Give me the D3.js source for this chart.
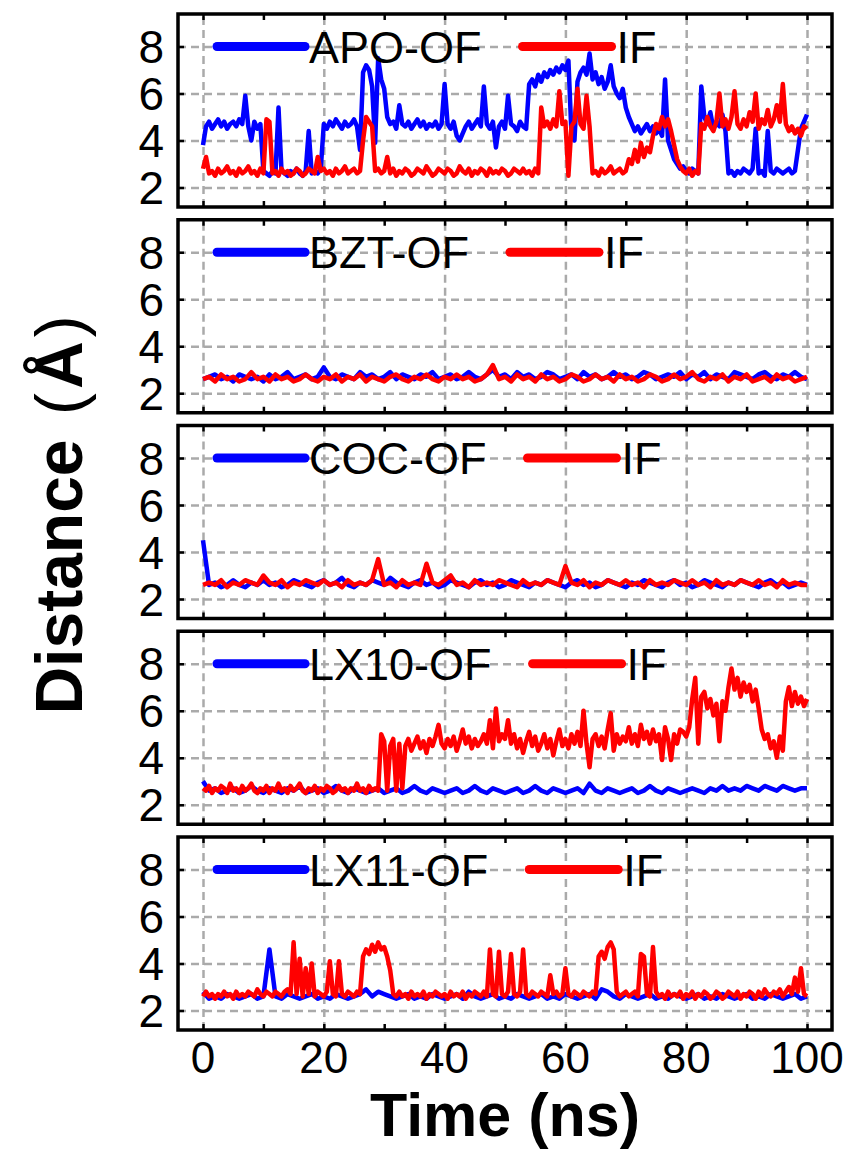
<!DOCTYPE html>
<html>
<head>
<meta charset="utf-8">
<script src="https://cdn.jsdelivr.net/npm/d3@7"></script>
<style>
    body { margin: 0; background: #fff; }
    svg { display: block; font-family: "Liberation Sans", Arial, sans-serif; }
</style>
</head>
<body>
<div class="chart"></div>
<script>
// time axis, ns
let timeMax = 100;
let xTickValues = [0, 10, 20, 30, 40, 50, 60, 70, 80, 90, 100];
let xTickLabels = [0, 20, 40, 60, 80, 100];
let yTickValues = [2, 4, 6, 8];

let panelNames = ['APO', 'BZT', 'COC', 'LX10', 'LX11'];

// distances in Angstrom, evenly sampled over 0..100 ns
let apoOF = [
    3.8, 4.6, 4.8, 4.5, 4.7, 4.9, 4.6, 4.8, 4.5, 4.7, 4.8, 4.6, 4.9, 4.7, 5.9, 4.6, 4.0, 4.8, 4.5, 4.7,
    2.7, 2.6, 2.5, 2.7, 2.6, 5.4, 2.7, 2.6, 2.5, 2.7, 2.6, 2.8, 2.6, 2.5, 2.7, 4.4, 2.6, 2.7, 2.6, 2.8,
    4.7, 4.5, 4.8, 4.6, 4.9, 4.7, 4.5, 4.8, 4.6, 4.7, 4.9, 4.6, 3.6, 6.9, 7.2, 7.0, 6.3, 3.9, 7.5, 6.6,
    6.2, 5.0, 4.7, 4.8, 4.5, 5.5, 4.7, 4.6, 4.8, 4.5, 4.7, 4.9, 4.6, 4.8, 4.5, 4.7, 4.6, 4.8, 4.5, 4.7,
    6.4, 4.7, 4.5, 4.8, 4.2, 4.0, 4.3, 4.6, 4.8, 4.5, 4.7, 4.9, 4.6, 6.3, 4.7, 4.5, 4.8, 3.7, 4.6, 4.8,
    4.5, 5.9, 4.7, 4.6, 4.4, 4.8, 4.6, 4.5, 6.4, 6.6, 6.3, 6.8, 6.5, 6.9, 6.7, 7.0, 6.8, 7.1, 6.9, 7.2,
    7.0, 7.4, 4.3, 4.0, 6.5, 6.9, 7.1, 6.8, 7.7, 6.6, 6.9, 6.4, 6.7, 6.2, 6.5, 7.2, 6.3, 6.0, 5.8, 6.2,
    5.4, 5.0, 4.7, 4.4, 4.6, 4.3, 4.5, 4.7, 4.4, 4.6, 4.3, 4.5, 4.2, 6.6, 4.0, 3.6, 3.2, 3.0, 2.8, 2.9,
    2.7, 2.6, 2.8, 2.7, 2.6, 6.3, 5.0, 4.7, 5.2, 4.5, 4.8, 4.6, 5.1, 4.4, 2.6, 2.7, 2.5, 2.7, 2.6, 2.8,
    2.7, 2.6, 2.8, 4.5, 2.6, 2.7, 2.5, 4.4, 2.7, 2.6, 2.8, 2.7, 2.6, 2.7, 2.8, 2.6, 2.7, 3.6, 4.5, 4.8,
    5.1
];
let apoIF = [
    2.8, 3.3, 2.6, 2.7, 2.5, 2.8, 2.6, 2.7, 2.9, 2.6, 2.7, 2.5, 2.8, 2.6, 2.7, 2.9, 2.6, 2.7, 2.5, 2.8,
    2.6, 4.9, 4.8, 2.6, 2.7, 2.5, 2.8, 2.6, 2.7, 2.5, 2.6, 2.8, 2.7, 2.5, 2.6, 2.8, 2.7, 2.6, 3.3, 2.7,
    2.8, 2.6, 2.7, 2.5, 2.8, 2.6, 2.7, 2.9, 2.6, 2.7, 2.8, 2.6, 2.7, 4.0, 5.0, 4.8, 4.6, 2.7, 2.8, 2.6,
    2.7, 3.3, 2.6, 2.8, 2.5, 2.7, 2.6, 2.8, 2.7, 2.5, 2.6, 2.8, 2.7, 2.6, 2.9, 2.7, 2.5, 2.6, 2.8, 2.7,
    2.6, 2.8, 2.7, 2.5, 2.6, 2.9, 2.7, 2.6, 2.8, 2.5, 2.7, 2.6, 2.8, 2.7, 2.5, 2.8, 2.6, 2.7, 2.6, 2.8,
    2.7, 2.5, 2.6, 2.8, 2.7, 2.6, 2.8, 2.6, 2.7, 2.5, 2.8, 2.6, 5.4, 4.6, 4.8, 4.5, 4.9, 4.6, 6.1, 4.7,
    4.8, 2.5, 4.6, 4.8, 6.2, 4.7, 4.5, 5.9, 4.6, 2.6, 2.7, 2.5, 2.8, 2.6, 2.7, 2.9, 2.6, 2.7, 2.8, 2.6,
    2.7, 3.2, 3.0, 3.6, 3.1, 3.9, 3.3, 3.7, 3.5, 4.2, 4.7, 4.5, 5.0, 4.6, 4.9, 4.4, 3.8, 3.2, 2.9, 2.7,
    2.6, 2.8, 2.5, 2.7, 2.6, 4.7, 4.5, 5.0, 4.6, 4.4, 4.8, 6.0, 4.6, 4.9, 4.5, 5.0, 6.1, 4.7, 4.5, 4.9,
    4.6, 5.2, 4.8, 6.0, 4.5, 4.9, 4.7, 5.3, 4.6, 4.9, 5.5, 4.8, 6.4, 4.7, 4.4, 4.6, 4.3, 4.5, 4.2, 4.6,
    4.5
];
let bztOF = [
    2.6, 2.7, 2.8, 2.6, 2.7, 2.5, 2.8, 2.7, 2.6, 2.7, 2.5, 2.8, 2.6, 2.7, 2.9, 2.6, 2.7, 2.8, 2.6, 2.7,
    3.1, 2.7, 2.6, 2.8, 2.7, 2.6, 2.9, 2.7, 2.8, 2.6, 2.7, 2.9, 2.6, 2.8, 2.7, 2.6, 2.8, 2.7, 2.9, 2.6,
    2.7, 2.8, 2.6, 2.7, 2.9, 2.7, 2.6, 2.8, 3.0, 2.7, 2.8, 2.6, 2.9, 2.7, 2.8, 2.6, 2.7, 2.9, 2.8, 2.6,
    2.7, 2.8, 2.6, 2.9, 2.7, 2.8, 2.6, 2.7, 2.9, 2.7, 2.8, 2.6, 2.7, 2.9, 2.8, 2.6, 2.7, 2.8, 2.7, 2.9,
    2.6, 2.8, 2.7, 2.9, 2.6, 2.8, 2.7, 2.6, 2.9, 2.8, 2.7, 2.6, 2.8, 2.9, 2.7, 2.6, 2.8, 2.7, 2.9, 2.7,
    2.6
];
let bztIF = [
    2.6, 2.7, 2.5, 2.8, 2.6, 2.7, 2.5, 2.6, 2.9, 2.6, 2.7, 2.5, 2.8, 2.6, 2.7, 2.5, 2.6, 2.8, 2.6, 2.5,
    2.7, 2.6, 2.8, 2.5, 2.7, 2.6, 2.8, 2.5, 2.7, 2.6, 2.5, 2.7, 2.8, 2.6, 2.5, 2.7, 2.6, 2.8, 2.6, 2.5,
    2.7, 2.6, 2.8, 2.6, 2.7, 2.5, 2.6, 2.8, 3.2, 2.6, 2.7, 2.5, 2.8, 2.6, 2.7, 2.5, 2.8, 2.6, 2.7, 2.5,
    2.6, 2.8, 2.7, 2.5, 2.6, 2.8, 2.6, 2.7, 2.5, 2.8, 2.6, 2.7, 2.5, 2.6, 2.8, 2.7, 2.5, 2.6, 2.8, 2.6,
    2.7, 2.9, 2.6, 2.5, 2.7, 2.6, 2.8, 2.5, 2.7, 2.6, 2.8, 2.5, 2.6, 2.7, 2.5, 2.8, 2.6, 2.7, 2.5, 2.6,
    2.7
];
let cocOF = [
    4.5, 2.6, 2.7, 2.5, 2.6, 2.8, 2.6, 2.5, 2.7, 2.6, 2.8, 2.6, 2.7, 2.5, 2.6, 2.8, 2.7, 2.6, 2.5, 2.7,
    2.8, 2.6, 2.7, 2.9, 2.6, 2.5, 2.7, 2.6, 2.8, 2.7, 2.6, 2.9, 2.7, 2.6, 2.5, 2.7, 2.8, 2.6, 2.7, 2.5,
    2.6, 2.8, 2.7, 2.6, 2.5, 2.7, 2.8, 2.6, 2.7, 2.5, 2.6, 2.8, 2.7, 2.6, 2.5, 2.7, 2.6, 2.8, 2.7, 2.6,
    2.5, 2.7, 2.8, 2.6, 2.7, 2.5, 2.6, 2.8, 2.7, 2.6, 2.5, 2.7, 2.6, 2.8, 2.7, 2.6, 2.5, 2.7, 2.8, 2.6,
    2.7, 2.5, 2.6, 2.8, 2.7, 2.6, 2.5, 2.7, 2.6, 2.8, 2.7, 2.6, 2.5, 2.7, 2.8, 2.6, 2.7, 2.5, 2.6, 2.7,
    2.6
];
let cocIF = [
    2.6, 2.7, 2.6, 2.8, 2.5, 2.7, 2.6, 2.8, 2.7, 2.6, 3.0, 2.7, 2.6, 2.8, 2.5, 2.7, 2.6, 2.8, 2.7, 2.6,
    2.8, 2.6, 2.7, 2.5, 2.8, 2.6, 2.7, 2.6, 2.8, 3.7, 2.6, 2.7, 2.5, 2.8, 2.6, 2.7, 2.6, 3.5, 2.7, 2.6,
    2.8, 3.0, 2.6, 2.7, 2.5, 2.8, 2.6, 2.7, 2.6, 2.8, 2.7, 2.6, 2.5, 2.8, 2.6, 2.7, 2.6, 2.8, 2.7, 2.6,
    3.4, 2.7, 2.6, 2.8, 2.5, 2.7, 2.6, 2.8, 2.7, 2.6, 2.8, 2.6, 2.7, 2.5, 2.8, 2.6, 2.7, 2.6, 2.8, 2.7,
    2.6, 2.8, 2.6, 2.7, 2.5, 2.8, 2.6, 2.7, 2.6, 2.8, 2.7, 2.6, 2.8, 2.6, 2.7, 2.5, 2.8, 2.6, 2.7, 2.6,
    2.6
];
let lx10OF = [
    3.0, 2.6, 2.7, 2.5, 2.6, 2.7, 2.5, 2.6, 2.8, 2.6, 2.5, 2.7, 2.6, 2.5, 2.7, 2.6, 2.8, 2.5, 2.6, 2.7,
    2.5, 2.6, 2.8, 2.6, 2.5, 2.7, 2.6, 2.5, 2.6, 2.7, 2.5, 2.6, 2.7, 2.5, 2.6, 2.8, 2.6, 2.5, 2.7, 2.6,
    2.5, 2.6, 2.7, 2.5, 2.6, 2.8, 2.6, 2.5, 2.7, 2.6, 2.5, 2.6, 2.7, 2.5, 2.6, 2.8, 2.6, 2.5, 2.7, 2.6,
    2.5, 2.6, 2.7, 2.5, 2.9, 2.6, 2.5, 2.7, 2.6, 2.5, 2.6, 2.7, 2.5, 2.6, 2.8, 2.6, 2.5, 2.7, 2.6, 2.5,
    2.6, 2.7, 2.6, 2.5, 2.7, 2.6, 2.8, 2.6, 2.7, 2.6, 2.8, 2.7, 2.6, 2.8, 2.7, 2.6, 2.8, 2.7, 2.6, 2.7,
    2.7
];
let lx10IF = [
    2.7, 2.6, 2.8, 2.5, 2.7, 2.6, 2.8, 2.7, 2.5, 2.9, 2.6, 2.7, 2.5, 2.8, 2.6, 2.7, 2.9, 2.6, 2.5, 2.7,
    2.6, 2.8, 2.5, 2.7, 2.6, 2.9, 2.6, 2.7, 2.5, 2.8, 2.6, 2.7, 2.9, 2.6, 2.5, 2.7, 2.6, 2.8, 2.5, 2.7,
    2.6, 2.8, 2.7, 2.5, 2.6, 2.8, 2.6, 2.7, 2.5, 2.7, 2.6, 2.9, 2.6, 2.7, 2.5, 2.8, 2.6, 2.7, 2.6, 5.0,
    4.7, 2.6, 4.5, 4.8, 2.6, 4.6, 2.7, 4.5, 4.8, 4.3, 4.6, 4.9, 4.4, 4.7, 4.2, 4.8, 4.5, 4.9, 5.4, 4.6,
    4.4, 4.8, 4.5, 4.9, 4.3, 4.7, 5.2, 4.6, 4.9, 4.4, 4.8, 4.5, 4.7, 5.0, 4.6, 5.6, 4.4, 6.1, 4.7, 5.0,
    4.8, 5.6, 4.6, 5.0, 4.4, 4.8, 4.2, 4.7, 5.1, 4.5, 4.9, 4.3, 4.6, 5.0, 4.4, 4.8, 4.1, 4.7, 5.2, 4.5,
    4.8, 4.4, 5.0, 4.6, 5.1, 4.5, 6.0, 4.6, 3.6, 4.8, 5.0, 4.5, 4.9, 4.4, 5.2, 5.9, 4.3, 5.0, 4.6, 4.9,
    4.7, 5.3, 4.6, 5.0, 4.5, 5.4, 4.8, 5.1, 4.6, 5.2, 4.7, 5.0, 3.9, 5.3, 4.8, 3.9, 5.0, 4.6, 5.2, 5.1,
    4.9, 5.3, 6.5, 7.4, 4.6, 6.6, 6.8, 6.1, 6.5, 5.8, 6.3, 4.7, 6.4, 6.0, 7.0, 7.8, 6.9, 7.4, 6.6, 7.2,
    6.8, 7.1, 6.4, 6.9, 6.1, 5.2, 4.8, 5.0, 4.4, 4.7, 4.0, 4.9, 4.3, 6.4, 7.0, 6.2, 6.8, 6.3, 6.6, 6.2,
    6.5
];
let lx11OF = [
    2.8, 2.5, 2.6, 2.5, 2.7, 2.6, 2.5, 2.6, 2.7, 2.5, 2.6, 4.6, 2.6, 2.5, 2.7, 2.6, 2.5, 2.6, 2.7, 2.5,
    2.6, 2.5, 2.7, 2.6, 2.5, 2.6, 2.7, 2.9, 2.6, 2.8, 2.7, 2.6, 2.5, 2.6, 2.7, 2.5, 2.6, 2.5, 2.7, 2.6,
    2.5, 2.6, 2.7, 2.5, 2.8, 2.6, 2.5, 2.6, 2.7, 2.5, 2.6, 2.5, 2.7, 2.6, 2.5, 2.6, 2.7, 2.5, 2.6, 2.5,
    2.7, 2.6, 2.5, 2.6, 2.7, 2.5, 2.9, 2.8, 2.6, 2.5, 2.7, 2.6, 2.5, 2.6, 2.7, 2.5, 2.6, 2.5, 2.7, 2.6,
    2.5, 2.6, 2.7, 2.5, 2.6, 2.5, 2.7, 2.6, 2.5, 2.6, 2.7, 2.5, 2.6, 2.5, 2.7, 2.6, 2.5, 2.6, 2.7, 2.5,
    2.6
];
let lx11IF = [
    2.6, 2.8, 2.6, 2.7, 2.5, 2.7, 2.6, 2.8, 2.6, 2.7, 2.5, 2.8, 2.6, 2.7, 2.6, 2.8, 2.7, 2.6, 2.9, 2.7,
    2.6, 2.8, 2.7, 2.6, 2.8, 2.7, 2.6, 2.8, 2.9, 2.7, 4.9, 2.7, 4.2, 2.6, 3.8, 2.7, 4.0, 2.6, 2.8, 2.7,
    2.6, 2.8, 4.1, 2.7, 2.6, 4.1, 2.7, 2.6, 2.8, 2.7, 2.6, 2.8, 2.7, 4.3, 4.6, 4.4, 4.8, 4.5, 4.9, 4.6,
    4.7, 4.3, 3.7, 2.7, 2.6, 2.8, 2.6, 2.7, 2.5, 2.8, 2.6, 2.7, 2.6, 2.8, 2.5, 2.7, 2.6, 2.8, 2.7, 2.6,
    2.7, 2.5, 2.8, 2.6, 2.7, 2.6, 2.8, 2.5, 2.7, 2.6, 2.8, 2.7, 2.6, 2.8, 2.6, 4.6, 2.7, 2.6, 4.5, 2.7,
    2.6, 2.8, 4.4, 2.7, 2.6, 2.8, 4.6, 2.7, 2.6, 2.8, 2.7, 2.6, 2.8, 2.7, 2.6, 3.5, 2.7, 2.8, 2.6, 2.7,
    3.8, 2.7, 2.6, 2.8, 2.7, 2.6, 2.8, 2.7, 2.6, 2.8, 2.7, 4.3, 4.5, 4.2, 4.7, 4.9, 4.6, 2.8, 2.6, 2.7,
    2.8, 2.6, 2.7, 2.8, 2.6, 4.4, 4.3, 2.7, 2.6, 4.7, 2.8, 2.6, 2.7, 2.5, 2.8, 2.6, 2.7, 2.6, 2.8, 2.5,
    2.7, 2.6, 2.8, 2.5, 2.7, 2.6, 2.8, 2.7, 2.5, 2.6, 2.8, 2.7, 2.5, 2.6, 2.8, 2.7, 2.6, 2.8, 2.5, 2.7,
    2.6, 2.8, 2.7, 2.5, 2.8, 2.6, 2.9, 2.7, 2.6, 2.8, 2.7, 2.9, 2.6, 2.8, 3.0, 2.7, 3.4, 2.8, 3.8, 2.7,
    2.6
];

let ofSeries = [apoOF, bztOF, cocOF, lx10OF, lx11OF];
let ifSeries = [apoIF, bztIF, cocIF, lx10IF, lx11IF];

let width = 852;
let height = 1150;
let frameLeft = 178;
let frameRight = 832;
let panelTop0 = 14;
let panelStep = 205.75;
let panelHeight = 193;

let blue = '#0000ff';
let red = '#ff0000';
let gridColor = '#aaaaaa';

let svg = d3.select('.chart')
    .append('svg')
    .attr('width', width)
    .attr('height', height);

// shared x scale
let xScale = d3.scaleLinear()
    .domain([0, timeMax])
    .range([203, 807]);

panelNames.forEach(function(name, i) {

    let top = panelTop0 + i * panelStep;
    let bottom = top + panelHeight;

    let yScale = d3.scaleLinear()
        .domain([2, 8])
        .range([top + 173.5, top + 32.5]);

    let g = svg.append('g').attr('class', 'panel');

    g.append('clipPath')
        .attr('id', 'clip' + i)
        .append('rect')
        .attr('x', frameLeft)
        .attr('y', top)
        .attr('width', frameRight - frameLeft)
        .attr('height', panelHeight);

    // dashed grid
    let xGrid = g.append('g')
        .attr('transform', 'translate(0,' + bottom + ')')
        .call(d3.axisBottom(xScale)
            .tickValues(xTickLabels)
            .tickSize(-panelHeight)
            .tickFormat(''));
    let yGrid = g.append('g')
        .attr('transform', 'translate(' + frameLeft + ',0)')
        .call(d3.axisLeft(yScale)
            .tickValues(yTickValues)
            .tickSize(-(frameRight - frameLeft))
            .tickFormat(''));
    [xGrid, yGrid].forEach(function(grid) {
        grid.select('.domain').remove();
        grid.selectAll('line')
            .attr('stroke', gridColor)
            .attr('stroke-width', 2.5)
            .attr('stroke-dasharray', '8,5');
    });

    // traces, OF under IF
    [[ofSeries[i], blue], [ifSeries[i], red]].forEach(function(pair) {
        let values = pair[0];
        let line = d3.line()
            .x(function(d, k) { return xScale(k * timeMax / (values.length - 1)); })
            .y(function(d) { return yScale(d); });
        g.append('path')
            .datum(values)
            .attr('clip-path', 'url(#clip' + i + ')')
            .attr('fill', 'none')
            .attr('stroke', pair[1])
            .attr('stroke-width', 4.5)
            .attr('stroke-linejoin', 'round')
            .attr('d', line);
    });

    // inward ticks on all four sides
    let tickAxes = [
        g.append('g').attr('transform', 'translate(0,' + bottom + ')')
            .call(d3.axisBottom(xScale).tickValues(xTickValues).tickSize(-6).tickFormat('')),
        g.append('g').attr('transform', 'translate(0,' + top + ')')
            .call(d3.axisTop(xScale).tickValues(xTickValues).tickSize(-6).tickFormat('')),
        g.append('g').attr('transform', 'translate(' + frameLeft + ',0)')
            .call(d3.axisLeft(yScale).tickValues(yTickValues).tickSize(-6).tickFormat('')),
        g.append('g').attr('transform', 'translate(' + frameRight + ',0)')
            .call(d3.axisRight(yScale).tickValues(yTickValues).tickSize(-6).tickFormat(''))
    ];
    tickAxes.forEach(function(ax) {
        ax.select('.domain').remove();
        ax.selectAll('line')
            .attr('stroke', '#000')
            .attr('stroke-width', 2.5);
    });

    // y tick labels
    g.selectAll('.ylabel')
        .data(yTickValues)
        .enter()
        .append('text')
        .attr('class', 'ylabel')
        .attr('x', 164)
        .attr('y', function(d) { return yScale(d) + 16.5; })
        .attr('text-anchor', 'end')
        .attr('font-size', 46)
        .attr('fill', '#000')
        .text(function(d) { return d; });

    // frame
    g.append('rect')
        .attr('x', frameLeft)
        .attr('y', top)
        .attr('width', frameRight - frameLeft)
        .attr('height', panelHeight)
        .attr('fill', 'none')
        .attr('stroke', '#000')
        .attr('stroke-width', 3.5);

    // legend
    let legendY = yScale(8);
    g.append('line')
        .attr('x1', 217).attr('x2', 305)
        .attr('y1', legendY).attr('y2', legendY)
        .attr('stroke', blue)
        .attr('stroke-width', 9)
        .attr('stroke-linecap', 'round');
    let ofText = g.append('text')
        .attr('x', 309)
        .attr('y', legendY + 16)
        .attr('font-size', 45)
        .attr('fill', '#000')
        .text(name + '-OF');
    let redStart = 309 + ofText.node().getComputedTextLength() + 41;
    g.append('line')
        .attr('x1', redStart).attr('x2', redStart + 89)
        .attr('y1', legendY).attr('y2', legendY)
        .attr('stroke', red)
        .attr('stroke-width', 9)
        .attr('stroke-linecap', 'round');
    g.append('text')
        .attr('x', redStart + 94)
        .attr('y', legendY + 16)
        .attr('font-size', 45)
        .attr('fill', '#000')
        .text('IF');

    // x tick labels only under the last panel
    if (i === panelNames.length - 1) {
        g.selectAll('.xlabel')
            .data(xTickLabels)
            .enter()
            .append('text')
            .attr('class', 'xlabel')
            .attr('x', function(d) { return xScale(d); })
            .attr('y', bottom + 43)
            .attr('text-anchor', 'middle')
            .attr('font-size', 44)
            .attr('fill', '#000')
            .text(function(d) { return d; });
    }
});

// axis titles
svg.append('text')
    .attr('x', (frameLeft + frameRight) / 2)
    .attr('y', 1136)
    .attr('text-anchor', 'middle')
    .attr('font-size', 61)
    .attr('font-weight', 'bold')
    .text('Time (ns)');

let yTitle = svg.append('text')
    .attr('transform', 'translate(82,' + 515 + ') rotate(-90)')
    .attr('text-anchor', 'middle')
    .attr('font-size', 66)
    .attr('font-weight', 'bold');
yTitle.append('tspan').text('Distance ');
yTitle.append('tspan').attr('font-weight', 'normal').attr('dx', 6).text('(');
yTitle.append('tspan').attr('dx', 4).text('Å');
yTitle.append('tspan').attr('font-weight', 'normal').attr('dx', 4).text(')');
</script>
</body>
</html>
